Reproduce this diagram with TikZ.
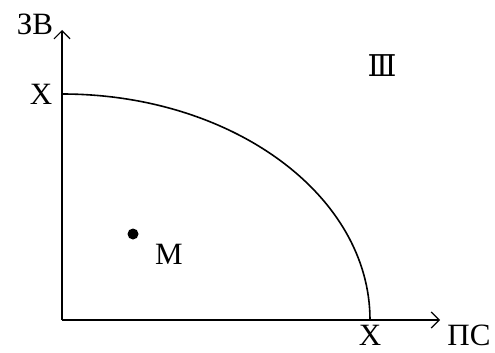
\documentclass[tikz,border=0pt]{standalone}
\usepackage{fontspec}
\setmainfont{Liberation Serif}
\newfontfamily\numfont{DejaVu Serif}
\usetikzlibrary{arrows.meta}
\begin{document}
\begin{tikzpicture}[x=1pt,y=-1pt,
  axis/.style={line width=1.6pt,-{Straight Barb[length=8pt,width=16pt,line width=1.2pt]}},
  lbl/.style={font=\fontsize{31}{33}\selectfont, inner sep=0pt}]
\useasboundingbox (0,0) rectangle (495,353);
\coordinate (O) at (62,320);
\coordinate (ytop) at (62,30);
\coordinate (xend) at (440,320);
\draw[axis] (O) -- (ytop);
\draw[axis] (O) -- (xend);
\draw[line width=1.6pt] (62,94) arc[start angle=90,end angle=0,x radius=308,y radius=-226];
\node[lbl] (zv) at (35,24) {ЗВ};
\node[lbl] (x1) at (41,94) {Х};
\node[lbl] (x2) at (370,335) {Х};
\node[lbl] (ps) at (469,335) {ПС};
\node[inner sep=0pt, font=\numfont\fontsize{30}{32}\selectfont] (three) at (382,66) {Ⅲ};
\fill (133,234) circle (5.5);
\node[lbl] (m) at (169,254) {М};
\end{tikzpicture}
\end{document}
